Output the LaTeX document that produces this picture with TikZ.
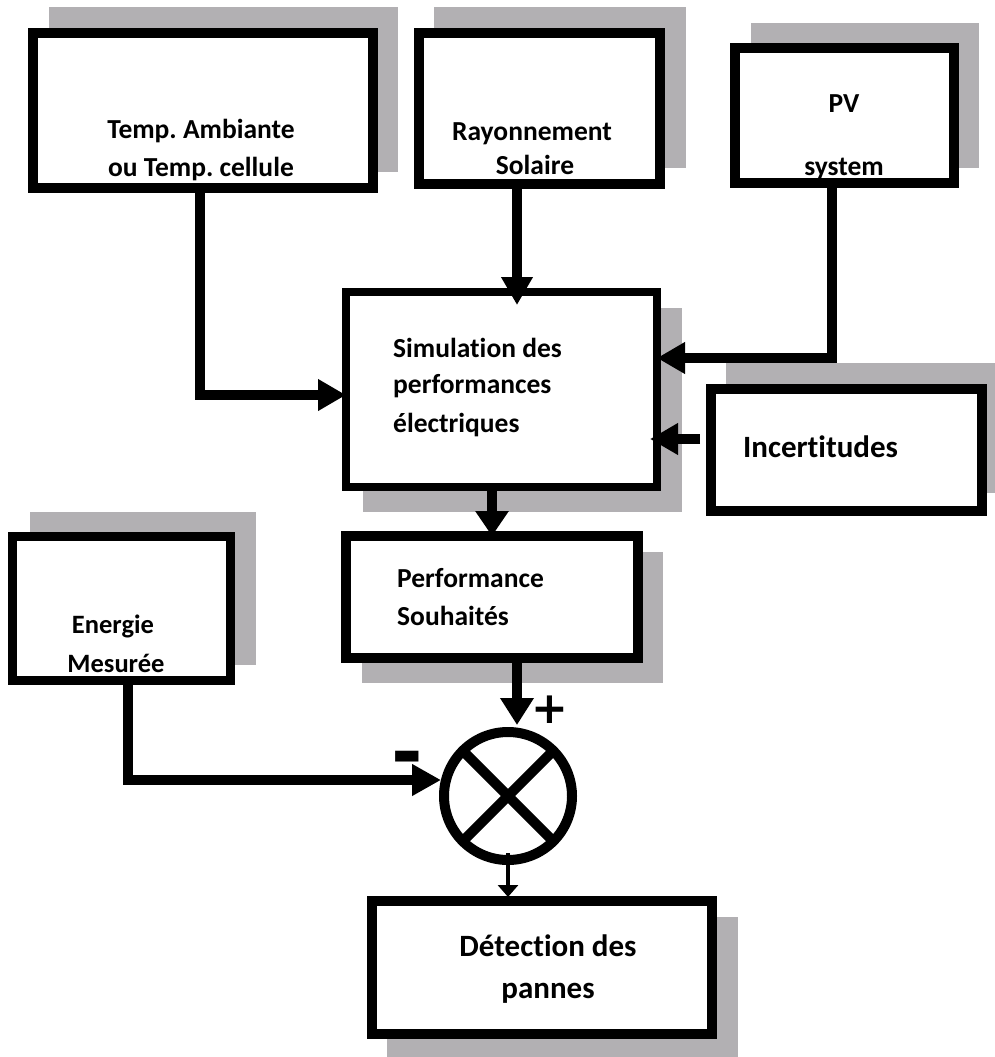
\documentclass[tikz,border=0pt]{standalone}
\usepackage{fontspec}
\setmainfont{Carlito}[Ligatures=NoCommon]
\newfontfamily\symfont{DejaVu Sans}
\usetikzlibrary{arrows.meta,calc}
\definecolor{shd}{RGB}{178,176,179}
\frenchspacing

\begin{document}
\begin{tikzpicture}[x=1pt,y=-1pt,
  shadowbox/.style={fill=shd},
  blk/.style={draw=black,fill=white,line width=10pt,rectangle,inner sep=0pt,outer sep=0pt},
  conn/.style={line width=10pt,-{Triangle[length=28pt,width=30pt]}},
  lbl/.style={font=\bfseries\fontsize{27.5}{27.5}\selectfont,inner sep=0pt},
  sgn/.style={font=\symfont\bfseries,inner sep=0pt}]
\useasboundingbox (0,0) rectangle (995,1057);

% drop shadows behind the blocks
\fill[shadowbox] (49,7) rectangle (398,172);
\fill[shadowbox] (434,7) rectangle (686,168);
\fill[shadowbox] (751,23) rectangle (979,168);
\fill[shadowbox] (363,308) rectangle (682,512);
\fill[shadowbox] (726,363) rectangle (995,493);
\fill[shadowbox] (362,552) rectangle (663,683);
\fill[shadowbox] (30,512) rectangle (256,665);
\fill[shadowbox] (387,917) rectangle (738,1057);

% blocks
\node[blk,minimum width=340pt,minimum height=155pt] (T) at (203,110.5) {};
\node[blk,minimum width=241pt,minimum height=151pt] (R) at (539.5,108.5) {};
\node[blk,minimum width=219pt,minimum height=135pt] (P) at (844.5,115.5) {};
\node[blk,line width=8pt,minimum width=311pt,minimum height=195pt] (S) at (501.5,389.5) {};
\node[blk,minimum width=271pt,minimum height=122pt] (I) at (846.5,450) {};
\node[blk,minimum width=292pt,minimum height=122pt] (F) at (492,597) {};
\node[blk,line width=9pt,minimum width=218pt,minimum height=144pt] (E) at (121.5,608.5) {};
\node[blk,minimum width=340pt,minimum height=133pt] (D) at (542,967.5) {};

% summing junction
\node[draw=black,fill=white,line width=10pt,circle,inner sep=0pt,outer sep=0pt,minimum size=128pt] (C) at (508,796) {};
\draw[line width=10pt] (C.north west) -- (C.south east) (C.north east) -- (C.south west);

% connectors
\draw[conn] ([xshift=-3pt]T.south) |- ([yshift=-5.5pt]S.west);
\draw[conn,shorten >=-13pt] ([xshift=-22.5pt]R.south) -- ([xshift=-22.5pt]R.south |- S.north);
\draw[conn] ([xshift=-12.5pt]P.south) |- ([yshift=31.5pt]S.east);
\draw[conn,shorten <=11pt,shorten >=-7pt] ([yshift=11pt]I.west) -- ([yshift=11pt]I.west -| S.east);
\draw[conn,-{Triangle[length=25pt,width=32pt]}] ([xshift=-9.5pt]S.south) -- ([xshift=-9.5pt]S.south |- F.north);
\draw[conn,-{Triangle[length=27pt,width=32pt]},shorten >=7pt] ([xshift=25pt]F.south) -- ([xshift=25pt]F.south |- C.north);
\draw[conn,-{Triangle[length=29pt,width=30pt]},shorten >=3pt] ([xshift=6.5pt]E.south) |- ([yshift=16pt]C.west);
\draw[line width=3.5pt,-{Triangle[length=12pt,width=20pt]},shorten >=4pt] ([yshift=7pt]C.south) -- (C.south |- D.north);

% labels
\node[lbl,anchor=base] (t1) at (201,138) {Temp. Ambiante};
\node[lbl,anchor=base] (t2) at (201,176) {ou Temp. cellule};
\node[lbl,anchor=base] (r1) at (532,140) {Rayonnement};
\node[lbl,anchor=base] (r2) at (535,174) {Solaire};
\node[lbl,anchor=base] (p1) at (844,112) {PV};
\node[lbl,anchor=base] (p2) at (844,175) {system};
\node[lbl,anchor=base west] (s1) at (393,357) {Simulation des};
\node[lbl,anchor=base west] (s2) at (393,393) {performances};
\node[lbl,anchor=base west] (s3) at (393,432) {électriques};
\node[lbl,font=\bfseries\fontsize{31}{31}\selectfont,anchor=base west] (i1) at (743,457) {Incertitudes};
\node[lbl,anchor=base west] (f1) at (397,587) {Performance};
\node[lbl,anchor=base west] (f2) at (397,625) {Souhaités};
\node[lbl,font=\bfseries\fontsize{26.5}{26.5}\selectfont,anchor=base] (e1) at (113,633) {Energie};
\node[lbl,font=\bfseries\fontsize{26.5}{26.5}\selectfont,anchor=base] (e2) at (116,672) {Mesurée};
\node[lbl,font=\bfseries\fontsize{31}{31}\selectfont,anchor=base] (d1) at (548,956) {Détection des};
\node[lbl,font=\bfseries\fontsize{31}{31}\selectfont,anchor=base] (d2) at (548,998) {pannes};
\node[sgn,font=\symfont\bfseries\fontsize{44}{44}\selectfont] (plus) at (550,710) {+};
\node[sgn,font=\symfont\bfseries\fontsize{76}{76}\selectfont,anchor=base] (minus) at (407,778) {-};
\end{tikzpicture}
\end{document}
